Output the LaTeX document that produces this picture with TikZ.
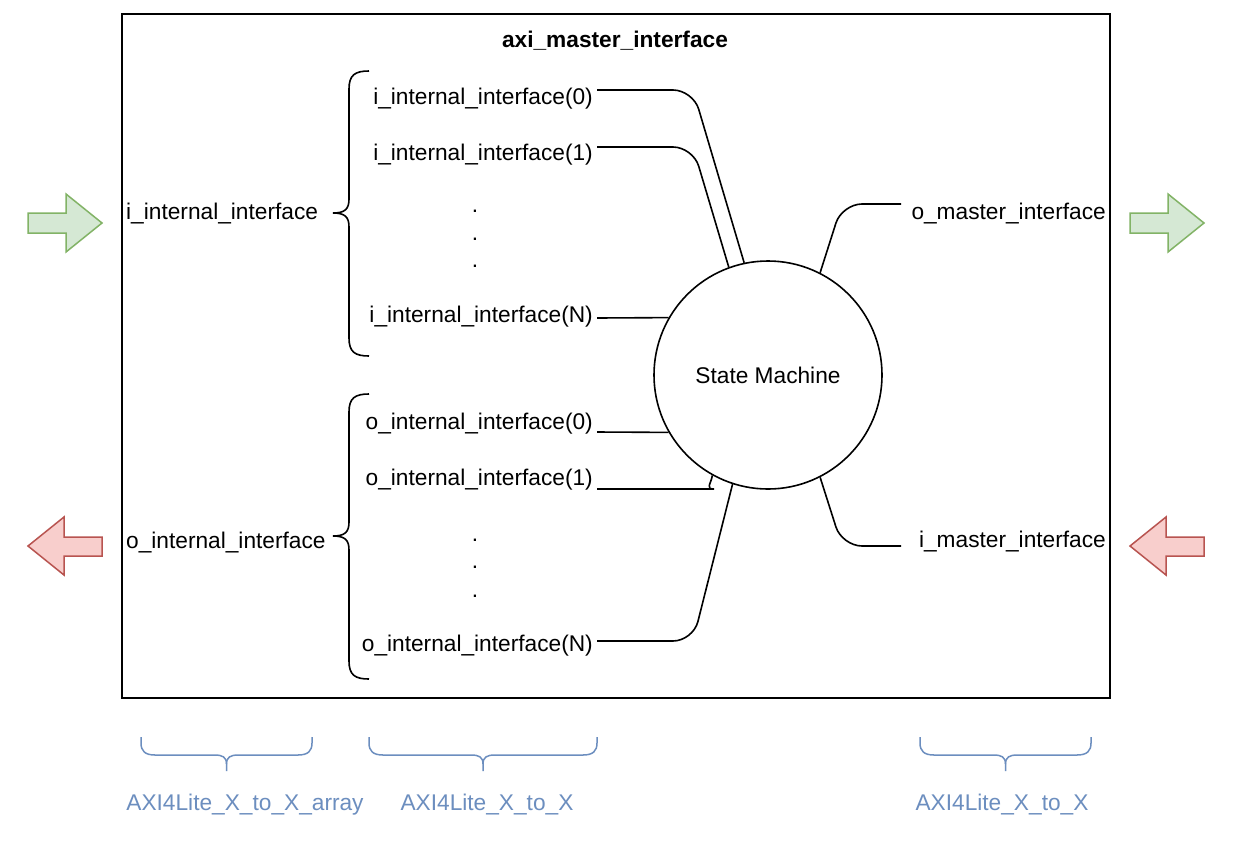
\documentclass[tikz,border=0pt]{standalone}
\usepackage{fontspec}
\setmainfont{Liberation Sans}
\definecolor{gfill}{HTML}{D5E8D4}
\definecolor{gdraw}{HTML}{82B366}
\definecolor{rfill}{HTML}{F8CECC}
\definecolor{rdraw}{HTML}{B85450}
\definecolor{bblue}{HTML}{6C8EBF}
\newcommand{\hbrc}[3]{%
  \draw[bbrc] (#1,737) -- (#1,743) .. controls (#1,751) and ({#1+4},755) .. ({#1+14},755)
    -- ({#3-12},755) .. controls ({#3-4},755) and (#3,757) .. (#3,764) -- (#3,771);
  \draw[bbrc] (#2,737) -- (#2,743) .. controls (#2,751) and ({#2-4},755) .. ({#2-14},755)
    -- ({#3+12},755) .. controls ({#3+4},755) and (#3,757) .. (#3,764);
}
\begin{document}
\begin{tikzpicture}[x=1pt,y=-1pt,
  lbl/.style={inner sep=0pt, font=\fontsize{22.7}{27}\selectfont},
  blbl/.style={lbl, text=bblue},
  wire/.style={line width=1.6pt, rounded corners=20pt},
  brc/.style={line width=1.6pt},
  bbrc/.style={line width=1.5pt, draw=bblue},
  garrow/.style={fill=gfill, draw=gdraw, line width=1.5pt, line join=miter},
  rarrow/.style={fill=rfill, draw=rdraw, line width=1.5pt, line join=miter}]
\useasboundingbox (0,0) rectangle (1236,841);
\fill[white] (0,0) rectangle (1236,841);

% main box
\draw[line width=1.6pt] (122,14) rectangle (1110,698);
\node[lbl, font=\fontsize{22.7}{27}\selectfont\bfseries, anchor=base] (title) at (615,47) {axi\_master\_interface};

% state machine
\node[circle, draw, line width=1.6pt, minimum size=228pt, inner sep=0pt, font=\fontsize{22.7}{27}\selectfont] (sm) at (768,375) {State Machine};

% left labels
\node[lbl, anchor=base west] (iin) at (126,219) {i\_internal\_interface};
\node[lbl, anchor=base west] (oin) at (126,548) {o\_internal\_interface};

% braces
\draw[brc] (369,71) .. controls (355,71) and (349,75) .. (349,89) -- (349,199)
  .. controls (349,209) and (345,213) .. (333,213)
  .. controls (345,213) and (349,217) .. (349,227) -- (349,338)
  .. controls (349,352) and (355,356) .. (369,356);
\draw[brc] (369,394) .. controls (355,394) and (349,398) .. (349,412) -- (349,522)
  .. controls (349,532) and (345,536) .. (333,536)
  .. controls (345,536) and (349,540) .. (349,550) -- (349,661)
  .. controls (349,675) and (355,679) .. (369,679);

% indexed labels
\node[lbl, anchor=base east] (i0) at (593,104) {i\_internal\_interface(0)};
\node[lbl, anchor=base east] (i1) at (593,160) {i\_internal\_interface(1)};
\node[lbl, anchor=base east] (iN) at (593,322) {i\_internal\_interface(N)};
\node[lbl, anchor=base east] (o0) at (593,429) {o\_internal\_interface(0)};
\node[lbl, anchor=base east] (o1) at (593,485) {o\_internal\_interface(1)};
\node[lbl, anchor=base east] (oN) at (593,651) {o\_internal\_interface(N)};

% dots
\node[lbl, anchor=base] (d1) at (475,212) {.};
\node[lbl, anchor=base] (d2) at (475,240) {.};
\node[lbl, anchor=base] (d3) at (475,267) {.};
\node[lbl, anchor=base] (d4) at (475,541) {.};
\node[lbl, anchor=base] (d5) at (475,568) {.};
\node[lbl, anchor=base] (d6) at (475,597) {.};

% right labels
\node[lbl, anchor=base east] (om) at (1106,219) {o\_master\_interface};
\node[lbl, anchor=base east] (im) at (1106,547) {i\_master\_interface};

% wire start points
\coordinate (ci0) at (597,90);
\coordinate (ci1) at (597,147);
\coordinate (ciN) at (597,318);
\coordinate (co0) at (597,432);
\coordinate (co1) at (597,489);
\coordinate (coN) at (597,641);
\coordinate (com) at (901,204);
\coordinate (cim) at (901,546);

\draw[wire] (ci0) -- (693,90) -- (sm.102.7);
\draw[wire] (ci1) -- (693,147) -- (sm.110.5);
\draw[wire] (ciN) -- (sm.150);
\draw[wire] (co0) -- (sm.210);
\draw[wire] (co1) -- (694,489) .. controls (705,489) and (711,484) .. (sm.241.9);
\draw[wire] (coN) -- (693,641) -- (sm.252.7);
\draw[wire] (com) -- (842,204) -- (sm.63);
\draw[wire] (cim) -- (842,546) -- (sm.297);

% arrows
\draw[garrow] (28,213) -- (66,213) -- (66,194) -- (102,223) -- (66,252) -- (66,233) -- (28,233) -- cycle;
\draw[garrow] (1130,213) -- (1168,213) -- (1168,194) -- (1204,223) -- (1168,252) -- (1168,233) -- (1130,233) -- cycle;
\draw[rarrow] (102,537) -- (64,537) -- (64,517) -- (28,546) -- (64,575) -- (64,556) -- (102,556) -- cycle;
\draw[rarrow] (1204,537) -- (1166,537) -- (1166,517) -- (1130,546) -- (1166,575) -- (1166,556) -- (1204,556) -- cycle;

% bottom braces
\hbrc{141}{312}{226.5}
\hbrc{369}{597}{483}
\hbrc{920}{1091}{1005.5}
\node[blbl, anchor=base] (b1) at (245,810) {AXI4Lite\_X\_to\_X\_array};
\node[blbl, anchor=base] (b2) at (487,810) {AXI4Lite\_X\_to\_X};
\node[blbl, anchor=base] (b3) at (1002,810) {AXI4Lite\_X\_to\_X};
\end{tikzpicture}
\end{document}
